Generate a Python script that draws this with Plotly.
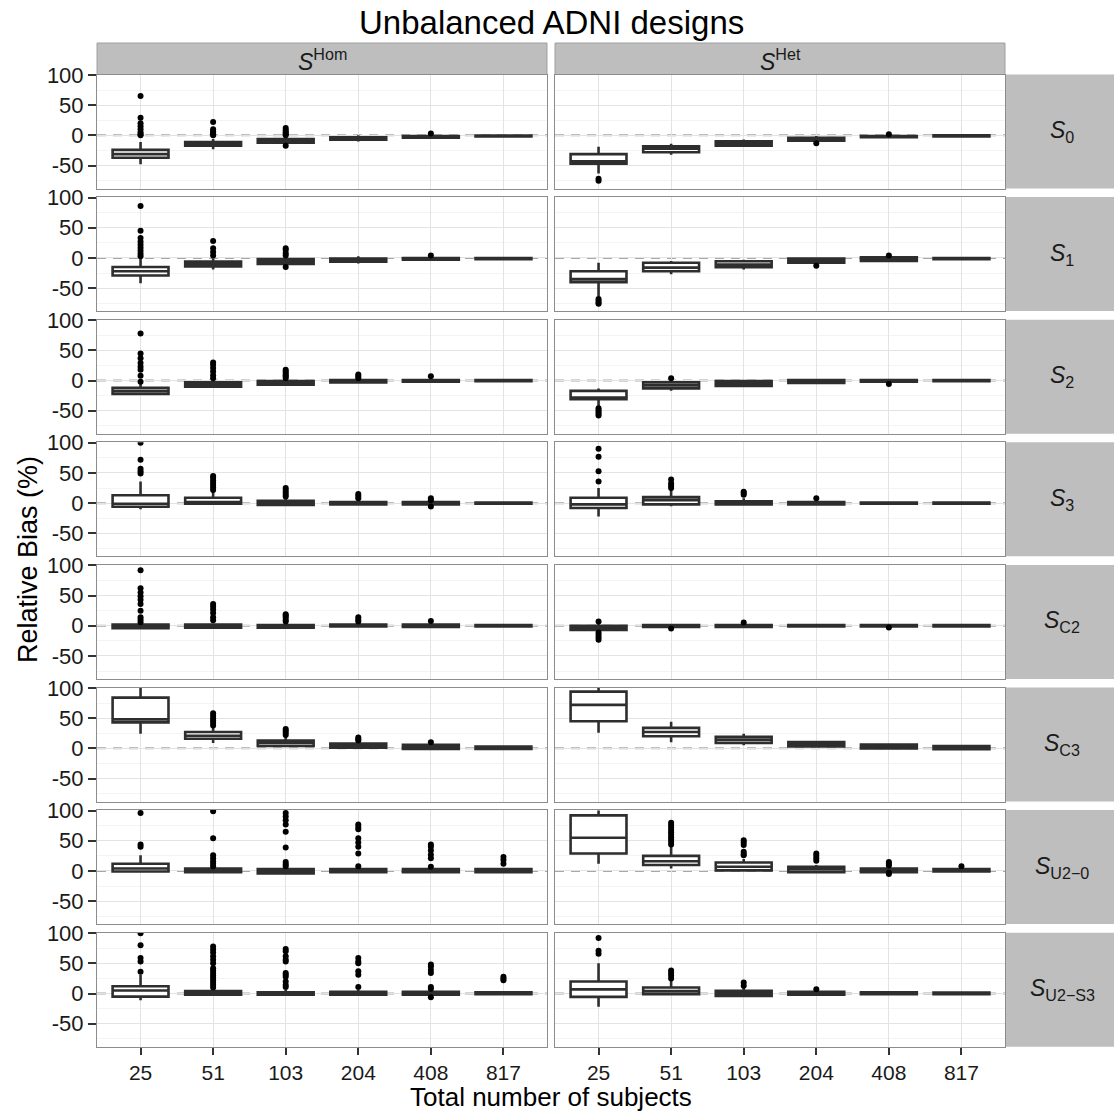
import plotly.graph_objects as go

# ---------------- data ----------------
categories = ["25", "51", "103", "204", "408", "817"]
row_labels = ["<i>S</i><sub>0</sub>", "<i>S</i><sub>1</sub>", "<i>S</i><sub>2</sub>",
              "<i>S</i><sub>3</sub>", "<i>S</i><sub>C2</sub>", "<i>S</i><sub>C3</sub>",
              "<i>S</i><sub>U2\u22120</sub>", "<i>S</i><sub>U2\u2212S3</sub>"]
col_labels = ["<i>S</i><sup>Hom</sup>", "<i>S</i><sup>Het</sup>"]

# Homoscedastic column (rows S0..SU2-S3, each over the 6 sample sizes)
hom_q1 = [[-37, -17, -12, -7, -4, -2], [-29, -14, -10, -6, -3, -2], [-22, -10, -7, -3, -2, -1],
          [-6, -1, -3, -2, -2, -1], [-4, -3, -3, -1, -2, -1], [43, 16, 4, 1, -1, -1],
          [-1, -2, -4, -2, -2, -2], [-5, -2, -2, -2, -2, -1]]
hom_med = [[-31, -14, -9, -5, -2, -1], [-22, -10, -6, -3, -1.5, -1], [-17, -7, -4, -1, -0.5, 0],
           [-1, 2, 0, 0, 0, 0], [-1, 0, 0, 0, 0, 0], [48, 21, 9, 4, 2, 1],
           [4, 1, -1, 0, 0, 0], [5, 1, 0, 0, 0, 0]]
hom_q3 = [[-24, -11, -6, -3, -1, -0.5], [-15, -6, -2, -1, 0, 0], [-12, -3, -1, 1, 1, 1],
          [13, 9, 4, 2, 2, 1], [2, 2, 1, 2, 2, 1], [84, 27, 13, 8, 6, 3],
          [12, 4, 3, 3, 3, 3], [12, 4, 2, 3, 3, 2]]
hom_lo = [[-48, -23, -15, -10, -5, -3], [-42, -19, -13, -9, -5, -3], [-23, -12, -9, -5, -3, -2],
          [-10, -3, -5, -4, -4, -2], [-6, -5, -5, -3, -3, -2], [24, 9, 3, 0, -2, -2],
          [-3, -4, -6, -4, -4, -3], [-11, -4, -4, -4, -4, -2]]
hom_hi = [[-11, -6, -2, 0, 2, 0], [0, -1, 0, 3, 2, 1], [-5, 0, 2, 3, 3, 2],
          [36, 19, 9, 5, 4, 2], [3, 4, 3, 4, 4, 2], [100, 37, 20, 12, 8, 4],
          [26, 6, 6, 6, 6, 5], [31, 8, 6, 6, 6, 4]]
hom_out = [
    [[65, 29, 20, 15, 10, 5, 2, 0], [22, 10, 7, 4, 2, 0], [12, 9, 6, 4, 2, 0, -17], [], [3], []],
    [[86, 45, 33, 27, 22, 17, 12, 7, 3], [28, 16, 10, 4], [16, 13, 8, 4, -15], [], [4], []],
    [[78, 45, 37, 29, 23, 18, 8, -2], [30, 26, 21, 15, 9, 4], [18, 15, 12, 9, 7, 4], [10, 7, 4], [7], []],
    [[100, 72, 57, 53, 49], [45, 42, 38, 34, 30, 26, 22], [25, 22, 18, 14, 11], [15, 12, 8], [8, 5, -5.5], []],
    [[92, 62, 55, 49, 43, 36, 25, 14, 10, 6], [36, 32, 27, 21, 14, 9], [19, 17, 14, 10, 7], [14, 10, 7], [8], []],
    [[], [58, 54, 50, 46, 42, 38], [32, 29, 26, 22], [18, 15, 13], [10], []],
    [[96, 44, 40], [99, 54, 26, 21, 16, 12, 8], [96, 90, 84, 77, 65, 39, 15, 11, 8],
     [77, 73, 69, 54, 47, 40, 29, 8], [44, 40, 34, 27, 21, 7], [23, 18, 12]],
    [[100, 80, 59, 53, 36], [78, 73, 68, 62, 56, 50, 42, 38, 34, 30, 26, 22, 18, 14, 10],
     [74, 70, 62, 56, 53, 34, 31, 28, 20, 14, 11], [59, 53, 50, 37, 31, 11],
     [48, 45, 39, 34, 11, 8, -6], [28, 25, 22]],
]

# Heteroscedastic column
het_q1 = [[-47, -28, -17, -9, -3, -2], [-40, -22, -15.5, -8, -5, -2], [-31, -13, -9, -4, -2, -1],
          [-8, -2, -2, -2, -1, -1], [-7, -2, -2, -1, -1, -1], [45, 20, 9, 3, 0, -1.5],
          [29, 10, 1, -2, -2, -1], [-5.5, -1, -4, -2, -1, -1]]
het_med = [[-43, -22, -13, -6, -2, -1], [-35, -16, -11, -5, -2, -1], [-28, -8, -5, -2, 0, 0],
           [-2, 5, 0, 0, 0, 0], [-3, 0, 0, 0, 0, 0], [72, 27, 14, 7, 3, 1],
           [55, 16, 7, 3, 1, 1], [7, 4, 0, 0, 0, 0]]
het_q3 = [[-31, -18, -10, -4, -1, 0], [-22, -8, -5.5, -1, 1, 0], [-17, -3, -1, 1, 1, 1],
          [9, 10, 3, 2, 1, 1], [0, 1, 1, 1, 1, 1], [94, 34, 19, 10.5, 6.5, 4],
          [92, 25, 14, 7, 4, 3], [20, 10, 4.5, 3, 2, 1.5]]
het_lo = [[-63, -32, -19, -10, -4, -3], [-64, -27, -19, -10, -6, -3], [-43, -17, -11, -6, -4, -2],
          [-22, -5, -4, -3, -2, -2], [-10, -3, -3, -2, -2, -2], [26, 10, 5, 2, -1, -2],
          [12, 4, 0, -3, -3, -2], [-22, -3, -5, -3, -2, -2]]
het_hi = [[-19, -14, -7, -1, 0, 1], [-8, -5, -3, 1, 2, 1], [-13, 0, 0, 2, 2, 2],
          [25, 22, 8, 4, 2, 2], [4, 2, 2, 2, 2, 2], [100, 44, 24, 12, 8, 5],
          [100, 40, 20, 10, 6, 5], [50, 22, 10, 5, 3, 2]]
het_out = [
    [[-72, -75], [], [], [-13], [2], []],
    [[-68, -71, -74, -76], [], [], [-13], [4], []],
    [[-46, -49, -52, -55, -58], [4], [], [], [-5.5], []],
    [[90, 77, 53, 36], [39, 33, 29, 25], [19, 17, 14], [8], [], []],
    [[7, -11, -15, -19, -23], [-4.5], [5.5], [], [-3], []],
    [[], [], [], [], [], []],
    [[], [80, 76, 72, 68, 64, 60, 56, 52, 48, 44], [51, 47, 43, 32, 28, 26], [29, 25, 21, 17],
     [15, 12, 9, -3, -5], [8]],
    [[92, 71, 66], [38, 34, 30, 25], [18.5, 13], [7], [], []],
]

y_ticks = [-50, 0, 50, 100]
y_minor = [-75, -25, 25, 75]

# ---------------- layout geometry ----------------
W, H = 1114, 1115
col_x = [(97, 547), (555, 1005)]
row_top0, row_pitch, row_h = 74.5, 122.6, 114.0
FONT = "Arial, Liberation Sans, sans-serif"
STRIP = "#BEBEBE"

fig = go.Figure()
layout = dict(width=W, height=H, margin=dict(l=0, r=0, t=0, b=0),
              paper_bgcolor="white", plot_bgcolor="white", showlegend=False,
              template="none", font=dict(family=FONT, color="black"))
shapes, annotations = [], []

# strips (paper-referenced)
for c in range(2):
    shapes.append(dict(type="rect", xref="paper", yref="paper",
                       x0=col_x[c][0] / W, x1=col_x[c][1] / W, y0=1 - 74.5 / H, y1=1 - 43 / H,
                       fillcolor=STRIP, line=dict(color="#A0A0A0", width=1), layer="below"))
    annotations.append(dict(text=col_labels[c], xref="paper", yref="paper",
                            x=(col_x[c][0] + col_x[c][1]) / 2 / W, y=1 - 60 / H,
                            showarrow=False, xanchor="center", yanchor="middle",
                            font=dict(size=23, color="#1a1a1a", family=FONT)))

cols = [(hom_q1, hom_med, hom_q3, hom_lo, hom_hi, hom_out),
        (het_q1, het_med, het_q3, het_lo, het_hi, het_out)]

for r in range(8):
    top = row_top0 + r * row_pitch
    bot = top + row_h
    shapes.append(dict(type="rect", xref="paper", yref="paper",
                       x0=1005 / W, x1=1.0, y0=1 - bot / H, y1=1 - top / H,
                       fillcolor=STRIP, line=dict(color=STRIP, width=0), layer="below"))
    annotations.append(dict(text=row_labels[r], xref="paper", yref="paper",
                            x=1062 / W, y=1 - (top + bot) / 2 / H, showarrow=False,
                            xanchor="center", yanchor="middle",
                            font=dict(size=23, color="#1a1a1a", family=FONT)))
    for c in range(2):
        k = r * 2 + c + 1
        xs = "" if k == 1 else str(k)
        xname, yname = "x" + xs, "y" + xs
        q1, med, q3, lo, hi, out = cols[c]
        # dashed reference line at zero, drawn under the boxes
        shapes.append(dict(type="line", xref=xname + " domain", yref=yname,
                           x0=0, x1=1, y0=0, y1=0, layer="below",
                           line=dict(color="#A8A8A8", width=2, dash="9px,7px")))
        fig.add_trace(go.Box(
            x=categories, q1=q1[r], median=med[r], q3=q3[r],
            lowerfence=lo[r], upperfence=hi[r], boxpoints=False,
            fillcolor="white", line=dict(color="#2E2E2E", width=2.6),
            width=0.77, whiskerwidth=0, xaxis=xname, yaxis=yname, hoverinfo="skip"))
        px, py = [], []
        for i, cat in enumerate(categories):
            for v in out[r][i]:
                px.append(cat)
                py.append(v)
        fig.add_trace(go.Scatter(x=px, y=py, mode="markers",
                                 marker=dict(color="black", size=6),
                                 xaxis=xname, yaxis=yname, hoverinfo="skip"))
        bottom_row = r == 7
        left_col = c == 0
        layout["xaxis" + xs] = dict(
            domain=[col_x[c][0] / W, col_x[c][1] / W], anchor=yname,
            type="category", categoryorder="array", categoryarray=categories,
            range=[-0.6, 5.6], showgrid=True, gridcolor="#E3E3E3", gridwidth=1,
            showline=True, mirror=True, linecolor="#8C8C8C", linewidth=1,
            zeroline=False, automargin=False,
            ticks="outside" if bottom_row else "", ticklen=7, tickwidth=2, tickcolor="#333333",
            showticklabels=bottom_row, tickfont=dict(size=21, color="#1a1a1a", family=FONT))
        layout["yaxis" + xs] = dict(
            domain=[1 - bot / H, 1 - top / H], anchor=xname,
            range=[-88, 100.8], tickvals=y_ticks, ticktext=[str(v) for v in y_ticks],
            showgrid=True, gridcolor="#E3E3E3", gridwidth=1,
            minor=dict(tickvals=y_minor, showgrid=True, gridcolor="#F4F4F4", gridwidth=1, ticks=""),
            showline=True, mirror=True, linecolor="#8C8C8C", linewidth=1,
            zeroline=False, automargin=False,
            ticks="outside" if left_col else "", ticklen=8, tickwidth=2, tickcolor="#333333",
            showticklabels=left_col, tickfont=dict(size=22, color="#1a1a1a", family=FONT))

annotations.append(dict(text="Unbalanced ADNI designs", xref="paper", yref="paper",
                        x=551 / W, y=1 - 22 / H, showarrow=False, xanchor="center",
                        yanchor="middle", font=dict(size=33, color="black", family=FONT)))
annotations.append(dict(text="Total number of subjects", xref="paper", yref="paper",
                        x=551 / W, y=1 - 1114 / H, showarrow=False, xanchor="center",
                        yanchor="bottom", font=dict(size=26, color="black", family=FONT)))
annotations.append(dict(text="Relative Bias (%)", xref="paper", yref="paper",
                        x=28 / W, y=1 - 560 / H, showarrow=False, xanchor="center",
                        yanchor="middle", textangle=-90,
                        font=dict(size=27, color="black", family=FONT)))

layout["shapes"] = shapes
layout["annotations"] = annotations
fig.update_layout(**layout)
fig.write_html("out.html")
